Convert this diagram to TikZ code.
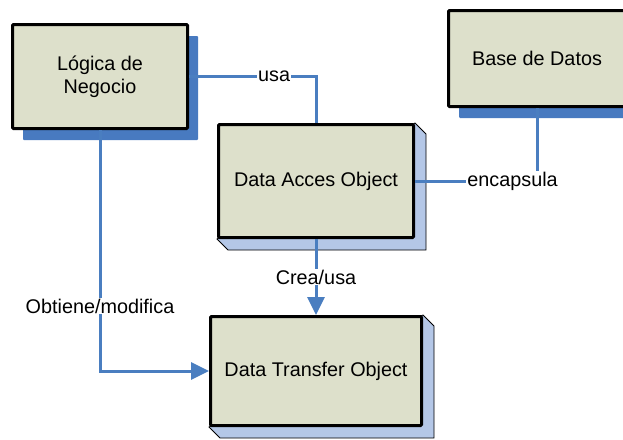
\documentclass[tikz,border=0pt]{standalone}
\usepackage{fontspec}
\setmainfont{Liberation Sans}
\usepackage{xcolor}
\usepackage{tikz}
\usetikzlibrary{positioning, arrows.meta, shadows, backgrounds}
\definecolor{azulLinea}{RGB}{74,126,192}
\definecolor{azulSombra}{RGB}{72,122,192}
\definecolor{azulCara}{RGB}{180,199,231}
\definecolor{fondoCaja}{RGB}{221,224,203}

\begin{document}
\begin{tikzpicture}[x=1pt, y=-1pt, font=\fontsize{19.8}{23}\selectfont,
    caja/.style={draw=black, line width=3pt, fill=fondoCaja, rounded corners=1pt, align=center},
    sombra/.style={drop shadow={shadow xshift=10.5pt, shadow yshift=-11.5pt, fill=azulSombra, opacity=1}},
    linea/.style={draw=azulLinea, line width=3pt},
    flecha/.style={linea, -{Triangle[length=18pt, width=17pt]}},
    etiqueta/.style={fill=white, inner sep=1pt}]
    \useasboundingbox (0,0) rectangle (623,439);
    % Definición de las cajas
    \node[caja, sombra, minimum width=175pt, minimum height=104pt] (logica) at (100,76.5) {Lógica de\\Negocio};
    \node[caja, sombra, minimum width=177pt, minimum height=96pt] (base) at (537,58.5) {Base de Datos};
    \node[caja, minimum width=195pt, minimum height=113pt] (dao) at (316,181) {Data Acces Object};
    \node[caja, minimum width=211pt, minimum height=109pt] (dto) at (316,371) {Data Transfer Object};
    % Caras laterales de las cajas en 3D
    \begin{scope}[on background layer]
        \foreach \n in {dao,dto} {
            \draw[fill=azulCara, line width=0.8pt] (\n.north east) -- ++(11,11)
                -- ([shift={(11,11)}]\n.south east) -- ([shift={(11,11)}]\n.south west)
                -- (\n.south west) -- cycle;
        }
    \end{scope}
    % Conectores
    \draw[linea] (logica.east) -| node[etiqueta, pos=0.335] {usa} (dao.north);
    \draw[linea] (dao.east) -| node[etiqueta, pos=0.4] {encapsula} (base.south);
    \draw[flecha] (dao.south) -- node[etiqueta, pos=0.5] {Crea/usa} (dto.north);
    \draw[flecha] (logica.south) |- node[etiqueta, pos=0.365] {Obtiene/modifica} (dto.west);
\end{tikzpicture}
\end{document}
